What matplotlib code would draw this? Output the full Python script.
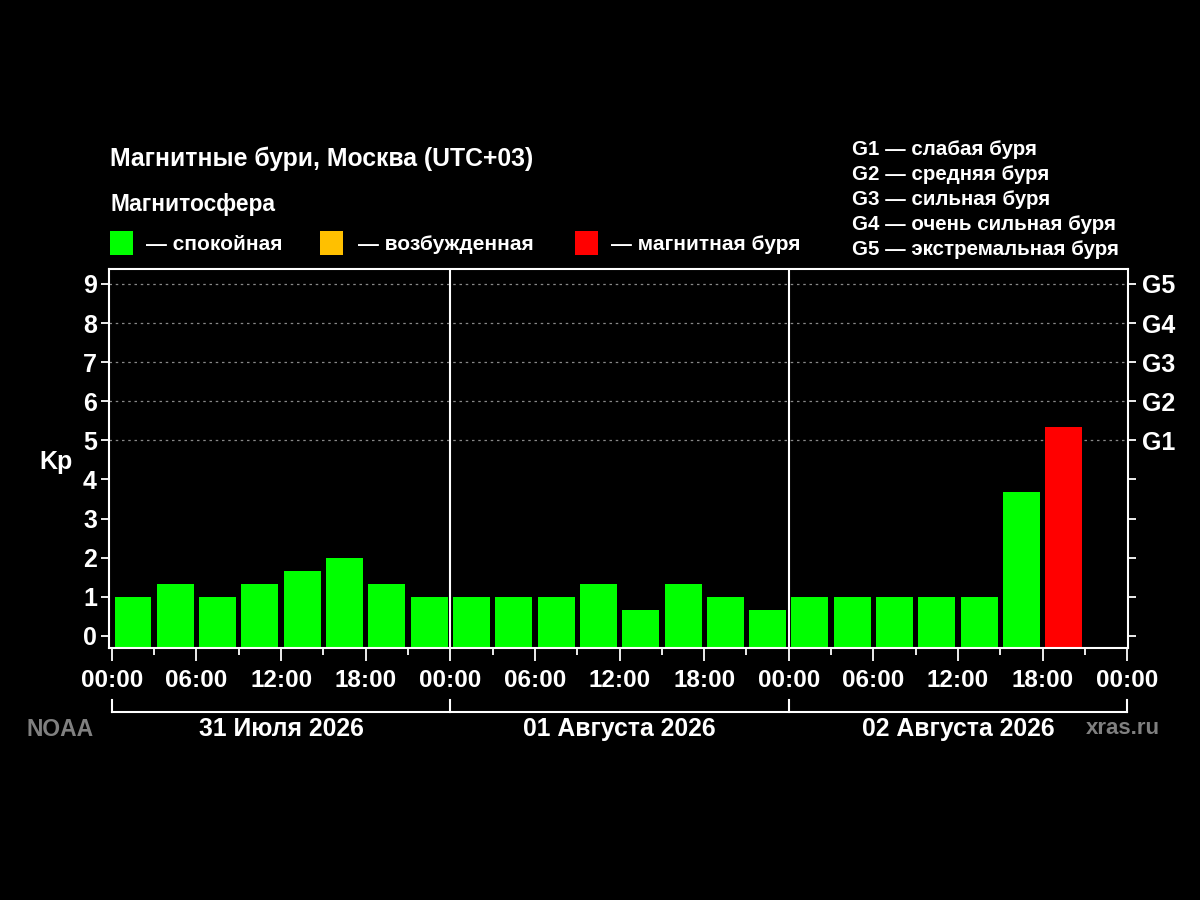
import matplotlib
matplotlib.use('Agg')
import matplotlib.pyplot as plt
import matplotlib.transforms as mtransforms
from matplotlib.patches import Rectangle
import numpy as np

# === DATA ===
days = ['31 Июля 2026', '01 Августа 2026', '02 Августа 2026']
kp_values = [1.0, 1.33, 1.0, 1.33, 1.67, 2.0, 1.33, 1.0,
             1.0, 1.0, 1.0, 1.33, 0.67, 1.33, 1.0, 0.67,
             1.0, 1.0, 1.0, 1.0, 1.0, 3.67, 5.33]
hour_labels = ['00:00', '06:00', '12:00', '18:00']
storm_levels = ['G1', 'G2', 'G3', 'G4', 'G5']
storm_names = ['слабая буря', 'средняя буря', 'сильная буря',
               'очень сильная буря', 'экстремальная буря']
status_names = ['спокойная', 'возбужденная', 'магнитная буря']
status_colors = ['#00ff00', '#ffc000', '#ff0000']

plt.rcParams['font.family'] = ['Liberation Sans', 'DejaVu Sans']
plt.rcParams['font.weight'] = 'bold'

fig = plt.figure(figsize=(12, 9), dpi=100, facecolor='black')
ax = fig.add_axes([0.0912, 0.28, 0.94 - 0.0912, 0.421])
ax.set_facecolor('black')

ymin = -0.31
n = len(kp_values)
x = np.arange(n) * 3 + 1.5
colors = [status_colors[2] if v >= 5 else status_colors[1] if v >= 4 else status_colors[0]
          for v in kp_values]
heights = np.array(kp_values) - ymin
ax.bar(x, heights, bottom=ymin, width=2.62, color=colors, zorder=2)

ax.set_xlim(-0.17, 72.05)
ax.set_ylim(ymin, 9.38)

# grid lines for storm levels
for lvl in range(5, 10):
    ax.axhline(lvl, color='#888888', linestyle=(0, (2, 3)), linewidth=0.9, zorder=1)
# day separators
for d in range(1, len(days)):
    ax.axvline(d * 24, color='white', linewidth=1.5, zorder=3)

for s in ax.spines.values():
    s.set_color('white')
    s.set_linewidth(1.5)

ax.set_yticks(range(10))
ax.set_yticklabels([str(i) for i in range(10)])
ax.tick_params(axis='y', colors='white', labelsize=18, length=6, width=1.3, pad=3,
               right=True, labelright=False)
ax2 = ax.twinx()
ax2.set_ylim(ax.get_ylim())
ax2.set_yticks(range(10))
ax2.set_yticklabels([''] * 5 + storm_levels)
ax2.tick_params(axis='y', colors='white', labelsize=18, length=6, width=1.3, pad=4)
for s in ax2.spines.values():
    s.set_visible(False)

ax.set_xticks(np.arange(0, 73, 6))
ax.set_xticklabels(hour_labels * 3 + ['00:00'])
ax.set_xticks(np.arange(3, 72, 6), minor=True)
ax.tick_params(axis='x', which='major', colors='white', labelsize=17.5, length=9, width=1.3, pad=6)
ax.tick_params(axis='x', which='minor', colors='white', length=5, width=1.3)

# bracket under the hour labels
trans = mtransforms.blended_transform_factory(ax.transData, ax.transAxes)
ax.plot([0, 72], [-0.169, -0.169], color='white', linewidth=1.5, transform=trans, clip_on=False)
for d in range(len(days) + 1):
    ax.plot([d * 24, d * 24], [-0.169, -0.137], color='white', linewidth=1.5,
            transform=trans, clip_on=False)
for i, day in enumerate(days):
    ax.text(i * 24 + 12, -0.213, day, transform=trans, color='white', fontsize=17.8,
            ha='center', va='center', fontweight='bold')

fig.text(0.047, 0.487, 'Kp', color='white', fontsize=18, ha='center', va='center', fontweight='bold')
fig.text(0.05, 0.190, 'NOAA', color='#808080', fontsize=16.5, ha='center', va='center', fontweight='bold')
fig.text(0.936, 0.190, 'xras.ru', color='#808080', fontsize=16, ha='center', va='center', fontweight='bold')

# header
fig.text(0.0917, 0.8235, 'Магнитные бури, Москва (UTC+03)', color='white', fontsize=17.8,
         ha='left', va='center', fontweight='bold')
fig.text(0.0917, 0.7725, 'Магнитосфера', color='white', fontsize=16.4,
         ha='left', va='center', fontweight='bold')
box_x = [0.0917, 0.2667, 0.479]
txt_x = [0.1217, 0.298, 0.509]
for bx, tx, name, c in zip(box_x, txt_x, status_names, status_colors):
    fig.patches.append(Rectangle((bx, 0.7167), 0.0195, 0.0267, transform=fig.transFigure,
                                 facecolor=c, edgecolor='none'))
    fig.text(tx, 0.728, '— ' + name, color='white', fontsize=15, ha='left', va='center',
             fontweight='bold')

for i, (lvl, name) in enumerate(zip(storm_levels, storm_names)):
    fig.text(0.71, 0.8335 - i * 0.0278, lvl + ' — ' + name, color='white', fontsize=14.8,
             ha='left', va='center', fontweight='bold')

fig.savefig('out.png', dpi=100, facecolor='black')
